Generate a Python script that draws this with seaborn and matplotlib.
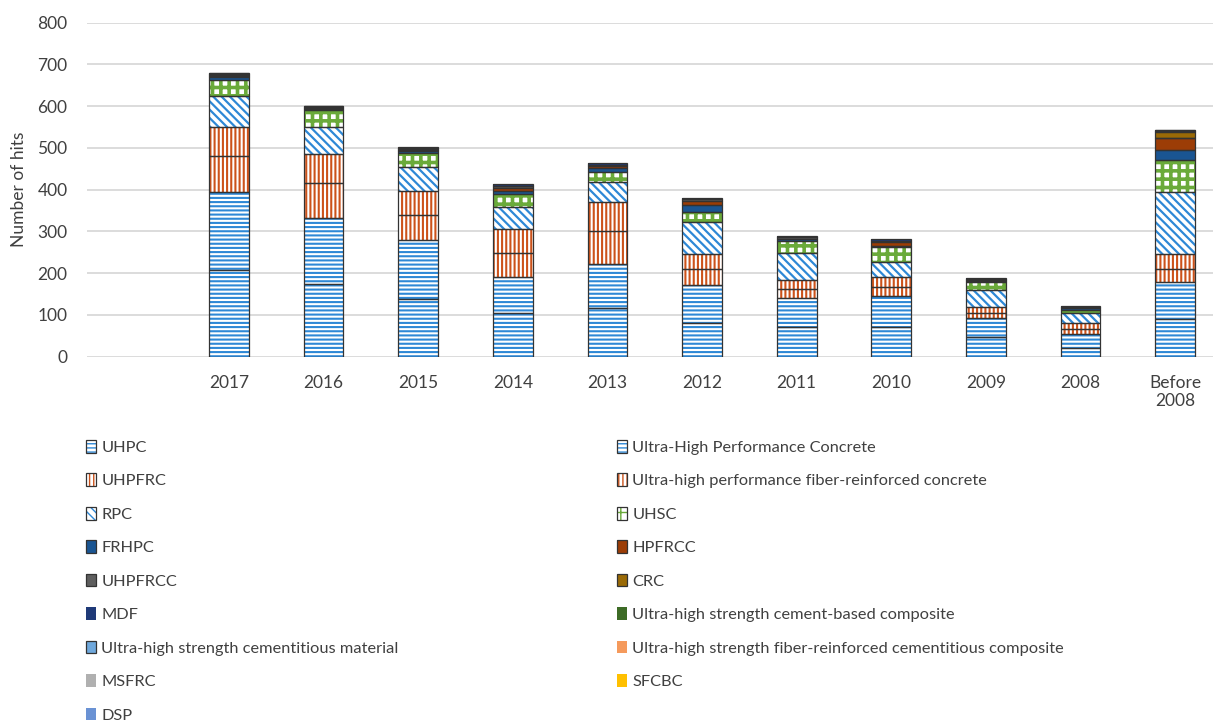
import matplotlib
matplotlib.use("Agg")
import matplotlib.pyplot as plt
from matplotlib.patches import Patch, Rectangle
import seaborn as sns

# Publication years (the leading blank slot is an empty category)
years = ["", "2017", "2016", "2015", "2014", "2013", "2012", "2011",
         "2010", "2009", "2008", "Before\n2008"]

# Number of hits per search term and year
uhpc = [0, 208, 174, 138, 104, 116, 81, 72, 70, 46, 20, 90]
uhp_concrete = [0, 187, 158, 141, 87, 105, 91, 69, 76, 46, 34, 90]
uhpfrc = [0, 85, 85, 61, 57, 79, 38, 20, 22, 13, 12, 31]
uhpfr_concrete = [0, 70, 68, 57, 58, 70, 37, 23, 22, 13, 15, 35]
rpc = [0, 75, 65, 58, 53, 48, 75, 65, 36, 42, 23, 149]
uhsc = [0, 38, 42, 32, 30, 24, 25, 29, 36, 20, 9, 76]
frhpc = [0, 7, 2, 6, 9, 9, 16, 3, 2, 2, 3, 24]
hpfrcc = [0, 2, 2, 2, 6, 6, 11, 2, 10, 2, 1, 28]
uhpfrcc = [0, 2, 2, 3, 4, 3, 4, 3, 4, 2, 2, 2]
crc = [0, 1, 0, 0, 1, 0, 0, 0, 0, 0, 0, 14]
mdf = [0, 3, 2, 2, 4, 3, 3, 3, 3, 2, 2, 2]
uhs_cement_based = [0, 0, 1, 0, 0, 0, 0, 0, 0, 0, 0, 1]
uhs_cementitious = [0, 1, 0, 0, 0, 0, 0, 0, 0, 0, 0, 0]
uhs_fiber_cementitious = [0, 0, 0, 2, 0, 0, 0, 0, 0, 0, 0, 0]
msfrc = [0, 0, 0, 0, 0, 0, 0, 0, 0, 0, 0, 1]
sfcbc = [0, 0, 0, 0, 0, 0, 0, 0, 0, 0, 0, 0]
dsp = [0, 1, 0, 0, 0, 0, 0, 0, 0, 0, 0, 0]

labels = [
    "UHPC", "Ultra-High Performance Concrete",
    "UHPFRC", "Ultra-high performance fiber-reinforced concrete",
    "RPC", "UHSC", "FRHPC", "HPFRCC", "UHPFRCC", "CRC", "MDF",
    "Ultra-high strength cement-based composite",
    "Ultra-high strength cementitious material",
    "Ultra-high strength fiber-reinforced cementitious composite",
    "MSFRC", "SFCBC", "DSP",
]
values = [uhpc, uhp_concrete, uhpfrc, uhpfr_concrete, rpc, uhsc, frhpc,
          hpfrcc, uhpfrcc, crc, mdf, uhs_cement_based, uhs_cementitious,
          uhs_fiber_cementitious, msfrc, sfcbc, dsp]

BLUE = "#2E88D6"
ORANGE = "#CC521A"
GREEN = "#6AAA3A"
# (color, hatch, hatch linewidth, outlined in legend)
styles = [
    (BLUE, "----", 1.5, True),
    (BLUE, "----", 1.5, True),
    (ORANGE, "||||", 1.5, True),
    (ORANGE, "||||", 1.5, True),
    (BLUE, "\\\\\\\\", 1.6, True),
    (GREEN, "++", 2.6, True),
    ("#1A5592", None, 0, True),
    ("#9C3D06", None, 0, True),
    ("#5E5E5E", None, 0, True),
    ("#9A6A06", None, 0, True),
    ("#1F3A78", None, 0, False),
    ("#3D6B26", None, 0, False),
    ("#6FA8DC", None, 0, True),
    ("#F59A5C", None, 0, False),
    ("#B0B0B0", None, 0, False),
    ("#FFC000", None, 0, False),
    ("#6A92D4", None, 0, False),
]
OUTLINE = "#333333"

sns.set_theme(style="white")
plt.rcParams["font.family"] = ["Lato", "DejaVu Sans"]
FS = 12.5
LEG_FS = 11.8
TXT = "#404040"

fig = plt.figure(figsize=(12.13, 7.21), dpi=100)
ax = fig.add_axes([87 / 1213, 1 - 356.7 / 721, 1 - 87 / 1213, (356.7 - 22.7) / 721])

bottom = [0.0] * len(years)
for vals, (col, hatch, hlw, _) in zip(values, styles):
    n_before = len(ax.patches)
    sns.barplot(x=years, y=vals, bottom=bottom, order=years, ax=ax,
                width=0.42, errorbar=None, saturation=1, color=col)
    new = list(ax.patches[n_before:])
    for p in new:
        if hatch:
            p.set_facecolor("white")
            p.set_edgecolor(col)
            p.set_hatch(hatch)
            if hasattr(p, "set_hatch_linewidth"):
                p.set_hatch_linewidth(hlw)
        else:
            p.set_facecolor(col)
            p.set_edgecolor(col)
        p.set_linewidth(0)
    # dark segment outline on top of the hatched fill
    for p in new:
        h = p.get_height()
        if h > 0:
            ax.add_patch(Rectangle(p.get_xy(), p.get_width(), h, fill=False,
                                   edgecolor=OUTLINE, linewidth=0.9, zorder=3))
    bottom = [b + v for b, v in zip(bottom, vals)]

ax.set_xlim(-0.5, 11.4)
ax.set_ylim(0, 800)
ax.set_yticks(range(0, 801, 100))
ax.yaxis.grid(True, color="#D9D9D9", linewidth=1.3)
ax.set_axisbelow(True)
for s in ax.spines.values():
    s.set_visible(False)
ax.tick_params(axis="both", length=0, labelsize=FS, labelcolor=TXT)
ax.tick_params(axis="x", pad=13)
ax.tick_params(axis="y", pad=14)
ax.set_xlabel("")
ax.set_ylabel("Number of hits", fontsize=FS, color=TXT)
ax.yaxis.set_label_coords(-0.053, 0.5)

# Two-column legend, filled row by row
handles = []
for col, hatch, hlw, framed in styles:
    if hatch:
        fill = Patch(facecolor="white", edgecolor=col, hatch=hatch, linewidth=0)
        if hasattr(fill, "set_hatch_linewidth"):
            fill.set_hatch_linewidth(min(hlw, 1.8))
    else:
        fill = Patch(facecolor=col, edgecolor=col, linewidth=0)
    if framed:
        frame = Patch(facecolor="none", edgecolor=OUTLINE, linewidth=0.9)
        handles.append((fill, frame))
    else:
        handles.append(fill)

left_idx = list(range(0, len(labels), 2))
right_idx = list(range(1, len(labels), 2))
leg_kw = dict(frameon=False, fontsize=LEG_FS, labelcolor=TXT, borderpad=0,
              handlelength=0.62, handleheight=0.8, handletextpad=0.32,
              labelspacing=1.13, loc="upper left", borderaxespad=0)
leg1 = fig.legend([handles[i] for i in left_idx], [labels[i] for i in left_idx],
                  bbox_to_anchor=(86 / 1213, 1 - 440 / 721), **leg_kw)
leg2 = fig.legend([handles[i] for i in right_idx], [labels[i] for i in right_idx],
                  bbox_to_anchor=(617 / 1213, 1 - 440 / 721), **leg_kw)

fig.savefig("out.png", dpi=100)
